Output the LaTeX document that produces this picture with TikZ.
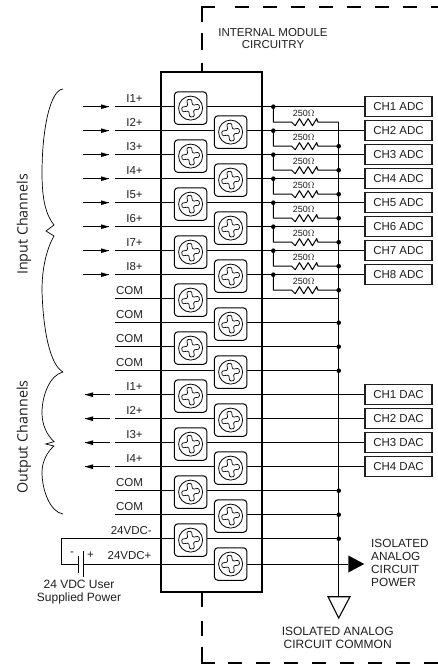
\documentclass[tikz,border=0pt]{standalone}
\usepackage{fontspec}
\setmainfont{Liberation Sans}
\newfontfamily\bracefont{Open Sans}
\definecolor{ink}{gray}{0.12}
\newcommand{\fsz}[1]{\fontsize{#1}{#1}\selectfont}
\tikzset{
  x=1pt,y=-1pt,
  wire/.style={line width=1pt,black},
  lbl/.style={inner sep=0pt,text=ink,font=\fsz{11.5}},
  rlbl/.style={inner sep=0pt,text=ink,font=\fsz{9}},
  multi/.style={lbl,align=center},
  chbox/.style={draw=ink,line width=1.2pt,fill=white,minimum width=67pt,minimum height=20pt,inner sep=0pt,text=ink,font=\fsz{11.5}},
  screwbox/.style={draw=black,line width=1pt,fill=white,rounded corners=3.5pt,minimum width=32.5pt,minimum height=32.5pt,inner sep=0pt},
  jdot/.style={circle,fill=black,inner sep=0pt,minimum size=4.6pt},
  border/.style={line width=1.8pt,black},
  side/.style={inner sep=0pt,text=ink,rotate=90,font=\bracefont\fsz{14.3}},
  brace/.style={line width=.7pt,black},
  pointer/.style={line width=1pt,black},
}
\newcommand{\screw}[3]{%
  \node[screwbox] (#1) at (#2,#3) {};
  \draw[line width=.8pt] (#2,#3) circle[radius=12];
  \begin{scope}[shift={(#2,#3)},rotate=10]
    \draw[line width=.7pt,rounded corners=1.2pt]
      (-2.4,-2.4)--(-2.4,-8.8)--(2.4,-8.8)--(2.4,-2.4)--(8.8,-2.4)--(8.8,2.4)--(2.4,2.4)--(2.4,8.8)--(-2.4,8.8)--(-2.4,2.4)--(-8.8,2.4)--(-8.8,-2.4)--cycle;
  \end{scope}}
\begin{document}
\begin{tikzpicture}
\useasboundingbox (0,0) rectangle (438,664);
\fill[white] (0,0) rectangle (438,664);
% dashed module outline
\draw[border] (201.7,72)--(201.7,63);
\draw[border] (201.7,50)--(201.7,33);
\draw[border] (201.7,22)--(201.7,7.3)--(215,7.3);
\draw[border,dash pattern=on 14pt off 14pt] (235,7.3)--(438,7.3);
\draw[border] (201.7,592)--(201.7,607);
\draw[border] (201.7,621)--(201.7,636);
\draw[border] (201.7,647)--(201.7,662.7)--(215,662.7);
\draw[border,dash pattern=on 14pt off 14pt] (228,662.7)--(438,662.7);
% row coordinates
\foreach \i in {1,...,19}{
  \pgfmathsetmacro{\yy}{106.7+24*(\i-1)}
  \coordinate (w\i) at (114.5,\yy);
  \coordinate (b\i) at (338.7,\yy);
  \coordinate (j\i) at (273.3,\yy);
}
\coordinate (w20) at (83.5,564);
\coordinate (b20) at (338.7,564);
\coordinate (bustop) at (338.7,122);
\coordinate (gnd) at (338.7,596.7);
% CH boxes
\foreach \i/\t in {1/CH1 ADC,2/CH2 ADC,3/CH3 ADC,4/CH4 ADC,5/CH5 ADC,6/CH6 ADC,7/CH7 ADC,8/CH8 ADC,13/CH1 DAC,14/CH2 DAC,15/CH3 DAC,16/CH4 DAC}{
  \node[chbox] (ch\i) at (398.5,0|-w\i) {\t};
  \draw[wire] (w\i) -- (ch\i.west);
}
% common wires into the bus
\foreach \i in {9,10,11,12,17,18}{
  \draw[wire] (w\i) -- (b\i);
}
\coordinate (batl) at (61,0|-w19);
\coordinate (batb) at (61,564);
\coordinate (plA) at (78.5,564);
\draw[wire] (b19) -- (batl) -- (batb) -- (plA);
\draw[wire] (w20) -- (b20);
\coordinate (pw) at (348.3,564);
\draw[wire] (b20) -- (pw);
\fill[black] (348.3,555.5)--(364.3,564)--(348.3,572.5)--cycle;
% bus
\draw[line width=1.1pt] (bustop) -- (gnd);
\draw[line width=1.1pt,line join=miter] (328,596.7)--(350,596.7)--(338.7,618)--cycle;
% module body
\draw[line width=1.7pt] (161,72) rectangle (262,591.7);
% resistors
\foreach \i in {1,...,8}{
  \pgfmathsetmacro{\ry}{106.7+24*(\i-1)+15.5}
  \coordinate (ra\i) at (291.7,\ry);
  \coordinate (rb\i) at (318,\ry);
  \draw[wire,line join=round] (j\i) |- (ra\i)
     -- ++(3.5,3.5) -- ++(4.3,-7) -- ++(4.3,7) -- ++(4.3,-7) -- ++(4.3,7) -- ++(4.3,-7) -- (rb\i) -- (bustop|-ra\i);
  \node[rlbl] (r\i) at (303.8,\ry-9) {250$\Omega$};
  \node[jdot] at (j\i) {};
}
\foreach \i in {2,...,8}{\node[jdot] at (bustop|-ra\i) {};}
\foreach \i in {10,11,12,17,18,19}{\node[jdot] at (b\i) {};}
% terminals
\foreach \i in {1,3,...,19}{
  \pgfmathsetmacro{\sy}{106.7+24*(\i-1)+1.4}
  \screw{s\i}{190.6}{\sy}
}
\foreach \i in {2,4,...,18}{
  \pgfmathsetmacro{\sy}{106.7+24*(\i-1)+1.4}
  \screw{s\i}{230.6}{\sy}
}
\screw{s20}{230.6}{564}
% battery
\draw[line width=1.1pt] (78.5,556)--(78.5,572.7);
\draw[line width=1.1pt] (83.5,550.7)--(83.5,577);
\node[lbl] (minus) at (72,554) {-};
\node[lbl] (plus) at (90.5,555) {+};
% input arrows
\foreach \i in {1,...,8}{
  \coordinate (ia\i) at (83,0|-w\i);
  \coordinate (ib\i) at (109,0|-w\i);
  \draw[pointer] (ia\i)--(ib\i);
  \fill[black] (ib\i)++(-8,-2.4)--++(0,4.8)--++(8,-2.4)--cycle;
}
\foreach \i in {13,...,16}{
  \coordinate (oa\i) at (110,0|-w\i);
  \coordinate (ob\i) at (85,0|-w\i);
  \draw[pointer] (oa\i)--(ob\i);
  \fill[black] (ob\i)++(8,-2.4)--++(0,4.8)--++(-8,-2.4)--cycle;
}
% terminal labels
\foreach \i/\t in {1/I1+,2/I2+,3/I3+,4/I4+,5/I5+,6/I6+,7/I7+,8/I8+,13/I1+,14/I2+,15/I3+,16/I4+}{
  \node[lbl] (t\i) at (134.5,0|-w\i) [yshift=8.5pt] {\t};
}
\foreach \i in {9,10,11,12,17,18}{
  \node[lbl] (t\i) at (129.5,0|-w\i) [yshift=8.5pt] {COM};
}
\node[lbl] (t19) at (131.3,531) {24VDC-};
\node[lbl] (t20) at (129.5,556) {24VDC+};
\node[multi,font=\fsz{12}] (user) at (79,592) {24 VDC User\\[0.5pt]Supplied Power};
\node[multi] (title) at (273,38.5) {INTERNAL MODULE\\[1pt]CIRCUITRY};
\node[multi,font=\fsz{11.8},align=left,anchor=west] (pwr) at (371,563) {ISOLATED\\[1.2pt]ANALOG\\[1.2pt]CIRCUIT\\[1.2pt]POWER};
\node[multi,font=\fsz{12}] (com) at (337.7,637.5) {ISOLATED ANALOG\\[1.2pt]CIRCUIT COMMON};
% side labels and braces
\node[side] (inch) at (24,224.5) {Input Channels};
\node[side] (outch) at (24,437) {Output Channels};
\draw[brace] (63,89) .. controls (50,90) and (42,130) .. (42,173) .. controls (42,200) and (46,215) .. (54,225) -- (46,231) -- (54,236) .. controls (46,250) and (42,270) .. (42,290) .. controls (43,330) and (50,365) .. (63,372);
\draw[brace] (63,372) .. controls (50,375) and (42,395) .. (42,413) .. controls (42,425) and (47,435) .. (54,441.7) -- (45.7,444) -- (54,446) .. controls (47,452) and (42,462) .. (42,472) .. controls (42,490) and (50,512) .. (63,514);
\end{tikzpicture}
\end{document}
